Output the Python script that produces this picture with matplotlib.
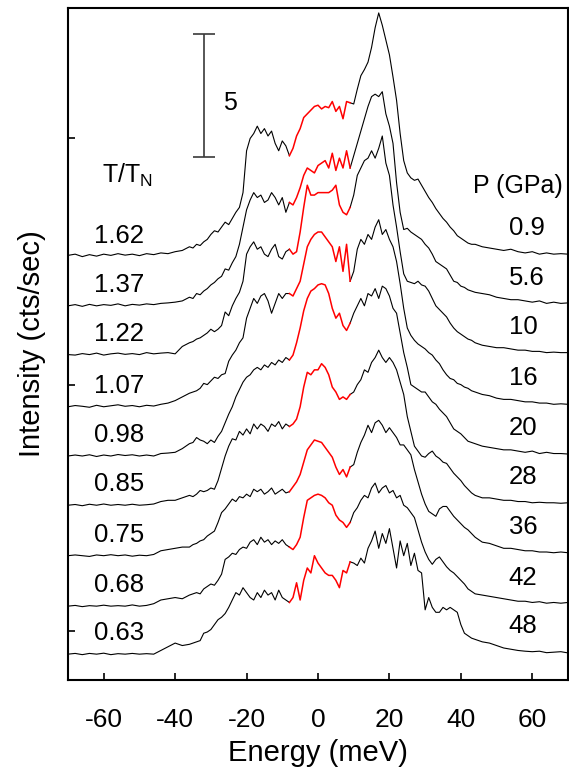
import numpy as np
import matplotlib
matplotlib.use("Agg")
import matplotlib.pyplot as plt

plt.rcParams["font.family"] = ["Liberation Sans", "DejaVu Sans"]
plt.rcParams["mathtext.fontset"] = "custom"
plt.rcParams["mathtext.rm"] = "Liberation Sans"
plt.rcParams["mathtext.it"] = "Liberation Sans"
plt.rcParams["axes.unicode_minus"] = False

# energy grid (meV): coarse in the tails, 1 meV in the middle
energy = np.concatenate([np.arange(-70, -36, 2), np.arange(-36, 44), np.arange(44, 71, 2)])

# labels, top spectrum first
t_ratio = ["1.62", "1.37", "1.22", "1.07", "0.98", "0.85", "0.75", "0.68", "0.63"]
pressure = ["0.9", "5.6", "10", "16", "20", "28", "36", "42", "48"]
offsets = [15.2, 13.2, 11.2, 9.1, 7.1, 5.1, 3.05, 1.0, -0.95]

# intensities above each baseline (cts/sec)
s_162 = [0.05, 0.1, 0.0, 0.08, 0.02, 0.1, 0.05, 0.12, 0.06, 0.1, 0.04, 0.12, 0.08, 0.15, 0.12, 0.2, 0.25,
         0.4, 0.35, 0.5, 0.45, 0.6, 0.7, 0.9, 1.05, 1.0, 1.2,
         1.4, 1.3, 1.55, 1.8, 2.0, 2.6, 4.3, 4.8, 5.0, 5.3,
         5.0, 5.2, 4.9, 5.1, 4.6, 4.3, 4.7, 4.5, 4.1, 4.4,
         4.9, 5.2, 5.65, 5.8, 5.95, 6.1, 6.15, 6.0, 6.1, 6.05,
         6.3, 5.9, 6.1, 5.6, 6.3, 6.25, 6.2, 6.8, 7.35, 7.6,
         7.9, 8.5, 9.3, 9.9, 9.4, 8.8, 8.2, 7.3, 6.35, 5.0,
         3.9, 3.4, 3.2, 3.1, 3.15, 2.9, 2.65, 2.4, 2.2, 1.95,
         1.75, 1.55, 1.4, 1.2, 1.05, 0.85, 0.75, 0.65, 0.55, 0.5,
         0.5, 0.4, 0.35, 0.3, 0.25, 0.3, 0.2, 0.15, 0.2, 0.1, 0.15, 0.1, 0.12, 0.1]
s_137 = [0.0, 0.05, -0.02, 0.06, 0.0, 0.05, 0.02, 0.08, 0.0, 0.06, 0.03, 0.08, 0.05, 0.1, 0.12, 0.15, 0.2,
         0.35, 0.3, 0.5, 0.45, 0.6, 0.7, 0.85, 0.95, 1.1, 1.2,
         1.5, 1.45, 1.75, 2.0, 2.5, 3.2, 3.9, 4.3, 4.6, 4.4,
         4.5, 4.2, 4.3, 4.6, 4.4, 4.1, 4.4, 3.8, 4.2, 4.1,
         4.4, 4.8, 5.3, 5.6, 5.5, 5.4, 5.7, 5.8, 5.9, 5.6,
         6.2, 5.5, 6.0, 5.6, 6.3, 5.6, 6.1, 6.6, 7.1, 7.6,
         8.1, 8.5, 8.6, 8.5, 8.7, 7.8, 7.3, 6.6, 5.0, 3.8,
         3.1, 3.15, 3.0, 2.9, 2.8, 2.7, 2.5, 2.35, 2.1, 1.8,
         1.7, 1.6, 1.5, 1.25, 1.0, 0.95, 0.8, 0.75, 0.65, 0.6,
         0.55, 0.5, 0.45, 0.35, 0.3, 0.25, 0.25, 0.2, 0.15, 0.2, 0.1, 0.15, 0.1, 0.12]
s_122 = [0.02, 0.0, 0.06, 0.02, 0.08, 0.0, 0.05, 0.08, 0.03, 0.06, 0.02, 0.1, 0.05, 0.08, 0.1, 0.05, 0.35,
         0.5, 0.55, 0.65, 0.7, 0.8, 0.9, 1.05, 0.95, 1.05, 1.2,
         1.75, 1.6, 2.0, 2.3, 2.55, 3.0, 4.1, 4.4, 4.6, 4.3,
         4.4, 4.1, 4.0, 4.3, 4.5, 4.0, 3.9, 4.2, 4.3, 4.1,
         4.2, 5.0, 6.0, 6.9, 6.5, 6.5, 6.6, 6.6, 6.6, 6.6,
         6.7, 6.9, 6.1, 5.8, 5.7, 6.0, 6.5, 7.3, 7.6, 7.9,
         8.0, 8.3, 8.0, 8.4, 8.9, 7.8, 7.3, 6.1, 5.2, 4.2,
         3.3, 3.0, 2.95, 2.9, 3.0, 2.85, 2.8, 2.6, 2.3, 2.0,
         1.85, 1.7, 1.55, 1.3, 1.1, 0.95, 0.85, 0.75, 0.65, 0.6,
         0.5, 0.4, 0.35, 0.3, 0.3, 0.25, 0.2, 0.2, 0.15, 0.15, 0.1, 0.12, 0.1, 0.1]
s_107 = [0.0, 0.05, 0.02, -0.02, 0.06, 0.0, 0.04, 0.08, 0.02, 0.05, 0.0, 0.06, 0.03, 0.1, 0.15, 0.25, 0.4,
         0.55, 0.6, 0.65, 0.75, 0.95, 0.9, 1.05, 1.2, 1.15, 1.3,
         1.35, 1.85, 2.1, 2.3, 2.6, 2.8, 3.6, 4.0, 4.4, 4.2,
         4.5, 4.6, 4.3, 3.8, 4.2, 4.6, 4.4, 4.6, 4.6, 4.5,
         4.8, 5.1, 5.8, 6.5, 6.8, 7.0, 7.1, 7.1, 6.9, 6.7,
         6.5, 5.9, 6.5, 5.5, 6.6, 5.1, 5.5, 6.4, 6.8, 6.6,
         7.0, 6.8, 7.3, 7.6, 7.0, 7.2, 6.8, 6.5, 5.9, 5.0,
         4.0, 3.2, 2.9, 2.7, 2.55, 2.45, 2.35, 2.2, 2.1, 1.9,
         1.75, 1.5, 1.3, 1.15, 1.1, 0.95, 0.9, 0.8, 0.75, 0.65,
         0.6, 0.5, 0.45, 0.35, 0.3, 0.3, 0.25, 0.2, 0.2, 0.15, 0.15, 0.1, 0.12, 0.1]
s_098 = [0.0, 0.04, 0.0, 0.05, -0.02, 0.04, 0.0, 0.06, 0.02, 0.05, 0.0, 0.04, 0.0, 0.1, 0.12, 0.15, 0.3,
         0.5, 0.55, 0.75, 0.65, 0.6, 0.5, 0.65, 0.55, 0.8, 1.0,
         1.35, 1.7, 2.0, 2.4, 2.7, 3.0, 3.2, 3.3, 3.5, 3.6,
         3.5, 3.7, 3.6, 3.8, 3.7, 3.9, 3.8, 4.0, 3.9, 4.1,
         4.6, 5.2, 5.9, 6.4, 6.7, 6.8, 6.95, 7.0, 6.95, 6.6,
         6.0, 5.6, 5.8, 5.3, 5.1, 5.4, 5.8, 6.1, 6.4, 6.1,
         6.6, 6.5, 6.8, 6.4, 6.9, 6.8, 6.5, 6.0, 5.8, 5.0,
         4.2, 3.6, 2.9, 2.8, 2.7, 2.6, 2.6, 2.4, 2.2, 2.1,
         1.9, 1.75, 1.6, 1.35, 1.1, 1.0, 0.9, 0.75, 0.6, 0.55,
         0.5, 0.4, 0.35, 0.3, 0.25, 0.25, 0.2, 0.15, 0.2, 0.1, 0.15, 0.1, 0.1, 0.08]
s_085 = [0.0, 0.03, -0.02, 0.04, 0.0, 0.05, 0.0, 0.03, 0.0, 0.04, 0.0, 0.02, 0.05, 0.15, 0.2, 0.2, 0.3,
         0.4, 0.35, 0.45, 0.6, 0.55, 0.6, 0.7, 0.65, 1.0, 1.5,
         2.0, 2.4, 2.7, 2.65, 3.0, 2.85, 3.1, 2.9, 3.3, 3.1,
         3.3, 3.2, 3.0, 3.3, 3.2, 3.4, 3.1, 3.3, 3.2, 3.3,
         3.5, 4.0, 4.8, 5.4, 5.3, 5.5, 5.5, 5.75, 5.6, 5.3,
         4.8, 4.6, 4.3, 4.4, 4.3, 4.5, 4.6, 4.9, 5.1, 5.5,
         5.4, 5.8, 6.0, 6.3, 6.0, 5.8, 6.0, 5.8, 5.5, 5.0,
         4.5, 3.6, 3.0, 2.4, 2.2, 2.0, 1.95, 2.1, 2.2, 2.0,
         1.9, 1.75, 1.7, 1.5, 1.3, 1.15, 1.0, 0.8, 0.65, 0.5,
         0.4, 0.3, 0.3, 0.25, 0.2, 0.2, 0.15, 0.15, 0.1, 0.12, 0.1, 0.1, 0.08, 0.1]
s_075 = [0.0, 0.03, 0.0, -0.03, 0.03, 0.0, 0.04, 0.0, 0.03, -0.02, 0.02, 0.0, 0.05, 0.2, 0.25, 0.3, 0.35,
         0.35, 0.45, 0.5, 0.6, 0.65, 0.8, 0.9, 1.0, 1.35, 1.75,
         1.9, 2.1, 2.3, 2.2, 2.4, 2.35, 2.5, 2.4, 2.7, 2.6,
         2.7, 2.5, 2.6, 2.75, 2.5, 2.6, 2.7, 2.55, 2.6, 2.8,
         3.0, 3.3, 3.8, 4.3, 4.5, 4.7, 4.65, 4.6, 4.4, 4.2,
         4.0, 3.6, 3.3, 3.5, 3.2, 3.6, 3.7, 4.2, 4.6, 4.9,
         5.3, 5.0, 5.4, 5.5, 5.3, 5.0, 5.2, 5.0, 4.8, 4.5,
         4.5, 4.3, 4.1, 3.5, 3.0, 2.5, 2.1, 1.8, 1.7, 1.6,
         1.9, 2.0, 2.0, 1.8, 1.6, 1.45, 1.3, 1.15, 1.05, 0.9,
         0.75, 0.55, 0.5, 0.4, 0.3, 0.3, 0.25, 0.2, 0.2, 0.15, 0.15, 0.12, 0.15, 0.12]
s_068 = [0.0, 0.03, -0.02, 0.02, 0.0, 0.04, 0.0, 0.02, 0.0, 0.05, 0.0, 0.03, 0.1, 0.25, 0.3, 0.35, 0.3,
         0.45, 0.5, 0.55, 0.5, 0.7, 0.8, 0.9, 0.85, 1.05, 1.3,
         1.9, 2.0, 2.15, 2.1, 2.3, 2.4, 2.35, 2.6, 2.7, 2.5,
         2.8, 2.6, 2.7, 2.5, 2.65, 2.55, 2.7, 2.5, 2.4, 2.3,
         2.5, 2.8, 3.6, 4.3, 4.4, 4.5, 4.55, 4.5, 4.4, 4.2,
         4.1, 3.7, 3.5, 3.4, 3.2, 3.4, 3.8, 4.0, 4.3, 4.5,
         4.4, 4.8, 5.0, 4.6, 4.8, 4.9, 4.6, 4.7, 4.4, 4.5,
         4.1, 4.0, 3.8, 3.6, 3.1, 2.6, 2.2, 1.9, 1.7, 1.9,
         2.0, 1.8, 1.6, 1.45, 1.35, 1.2, 1.05, 0.9, 0.7, 0.6,
         0.5, 0.45, 0.4, 0.35, 0.3, 0.25, 0.2, 0.2, 0.15, 0.18, 0.12, 0.15, 0.12, 0.15]
s_063 = [0.0, 0.03, -0.02, 0.03, 0.0, 0.04, -0.02, 0.02, 0.0, 0.03, 0.0, 0.02, 0.0, 0.15, 0.3, 0.45, 0.35,
         0.4, 0.45, 0.5, 0.55, 0.85, 0.9, 1.0, 1.2, 1.4, 1.5,
         1.65, 1.9, 2.2, 2.5, 2.4, 2.7, 2.5, 2.3, 2.2, 2.5,
         2.3, 2.6, 2.4, 2.5, 2.2, 2.6, 2.3, 2.2, 2.1, 2.3,
         2.9, 2.2, 3.0, 3.5, 3.3, 4.0, 3.7, 3.5, 3.3, 3.2,
         3.2, 3.0, 2.7, 3.4, 3.3, 3.75, 3.7, 3.6, 3.9, 3.7,
         4.3, 4.6, 5.0, 4.3, 4.9, 4.5, 5.1, 4.3, 3.5, 4.6,
         4.0, 4.5, 3.6, 4.1, 3.4, 3.3, 1.8, 2.3, 1.9, 1.7,
         1.7, 1.9, 1.8, 1.9, 1.8, 1.7, 1.2, 0.85, 0.75, 0.65,
         0.6, 0.5, 0.45, 0.35, 0.25, 0.2, 0.15, 0.12, 0.1, 0.12, 0.06, 0.08, 0.1, 0.05]

spectra = [s_162, s_137, s_122, s_107, s_098, s_085, s_075, s_068, s_063]

fig = plt.figure(figsize=(5.69, 7.83), dpi=100)
ax = fig.add_axes([68 / 569, 1 - 680 / 783, 500 / 569, 672 / 783])

left = energy <= -8
mid = (energy >= -8) & (energy <= 9)
right = energy >= 9
for spec, off in zip(spectra, offsets):
    y = np.asarray(spec) + off
    ax.plot(energy[left], y[left], color="black", linewidth=0.8)
    ax.plot(energy[right], y[right], color="black", linewidth=0.8)
    ax.plot(energy[mid], y[mid], color="red", linewidth=1.1)

# labels on both sides of each spectrum
for lbl, off in zip(t_ratio, offsets):
    ax.text(-62.8, off + 0.85, lbl, ha="left", va="center", fontsize=18.5)
for lbl, off in zip(pressure, offsets):
    ax.text(53.4, off + 1.15, lbl, ha="left", va="center", fontsize=18.5)
ax.text(-60.6, 18.5, r"T/T$_\mathrm{N}$", ha="left", va="center", fontsize=18)
ax.text(43.5, 18.05, "P (GPa)", ha="left", va="center", fontsize=18)

# 5 cts/sec scale bar
ax.errorbar([-31.9], [21.73], yerr=[2.5], color="#3a3a3a", linewidth=1.2, capsize=8, capthick=1.2)
ax.text(-26.5, 21.45, "5", ha="left", va="center", fontsize=18)

ax.set_xlim(-70, 70)
ax.set_ylim(-2.0, 25.3)
ax.set_xticks(range(-60, 61, 20))
ax.set_yticks([0, 10, 20])
ax.set_yticklabels([])
ax.tick_params(direction="in", length=5, width=1.2, labelsize=19, pad=20)
for sp in ax.spines.values():
    sp.set_linewidth(1.5)

ax.set_xlabel("Energy (meV)", fontsize=21, labelpad=5)
ax.set_ylabel("Intensity (cts/sec)", fontsize=21, labelpad=-4)

fig.savefig("out.png", dpi=100)
plt.close(fig)
